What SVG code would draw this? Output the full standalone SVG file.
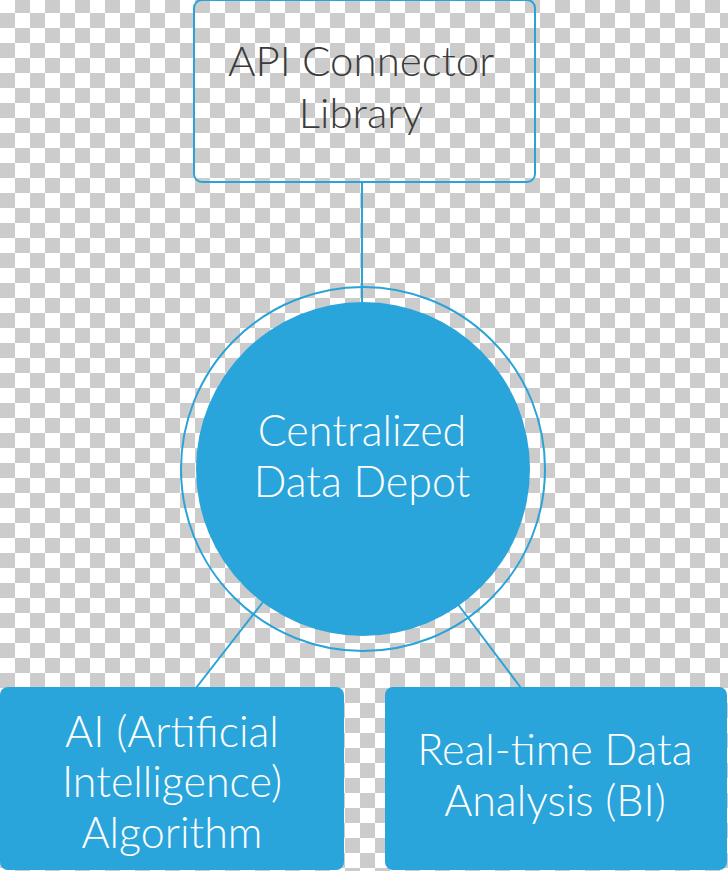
<svg xmlns="http://www.w3.org/2000/svg" width="728" height="871" viewBox="0 0 728 871">
<style>
.lbl{font-family:Lato,"Open Sans","Liberation Sans",sans-serif;font-weight:300;font-size:42px;text-anchor:middle}
.big{font-size:43px}
.dark{fill:#3b3b3b}
.light{fill:#ffffff}
.edge{stroke:#2aa3d9;stroke-width:2;fill:none}
.solid{fill:#2aa5db}
</style>
<defs>
<pattern id="checker" x="0" y="-2" width="30" height="30" patternUnits="userSpaceOnUse">
<rect width="30" height="30" fill="#ffffff"/>
<rect x="15" y="0" width="15" height="15" fill="#cccccc"/>
<rect x="0" y="15" width="15" height="15" fill="#cccccc"/>
</pattern>
</defs>
<rect width="728" height="871" fill="url(#checker)"/>
<g id="connectors">
<line class="edge" x1="362" y1="182" x2="362" y2="302"/>
<line class="edge" x1="263" y1="602" x2="196" y2="688"/>
<line class="edge" x1="457" y1="603" x2="521" y2="688"/>
</g>
<g id="api-connector-library">
<rect class="edge" x="194" y="0" width="341" height="182" rx="8"/>
<text class="lbl dark" x="361" y="76">API Connector</text>
<text class="lbl dark" x="361" y="128">Library</text>
</g>
<g id="centralized-data-depot">
<circle class="edge" cx="363" cy="469" r="182"/>
<circle class="solid" cx="363" cy="469" r="167"/>
<text class="lbl big light" x="362" y="446">Centralized</text>
<text class="lbl big light" x="362" y="497">Data Depot</text>
</g>
<g id="ai-algorithm">
<rect class="solid" x="0" y="687" width="344" height="183" rx="8"/>
<text class="lbl big light" x="172" y="747">AI (Artificial</text>
<text class="lbl big light" x="172" y="797">Intelligence)</text>
<text class="lbl big light" x="172" y="848">Algorithm</text>
</g>
<g id="realtime-analysis">
<rect class="solid" x="385" y="687" width="342" height="183" rx="8"/>
<text class="lbl big light" x="555" y="765">Real-time Data</text>
<text class="lbl big light" x="555" y="816">Analysis (BI)</text>
</g>
</svg>
